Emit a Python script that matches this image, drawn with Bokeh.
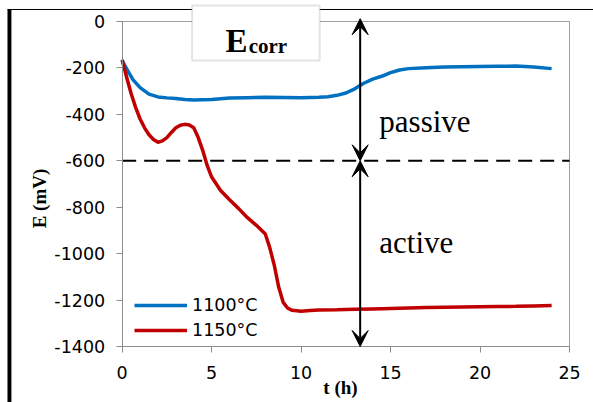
from bokeh.plotting import figure
from bokeh.models import (Range1d, Arrow, VeeHead, Label, Legend, LegendItem,
                          BoxAnnotation, FixedTicker, LinearAxis)
from bokeh.embed import file_html
from bokeh.resources import INLINE
import math

# ---- data ----
t_1100 = [0, 0.3, 0.6, 1.0, 1.5, 2.0, 2.5, 3.0, 3.5, 4.0, 4.5, 5, 6, 7, 8, 9, 10,
          11, 11.5, 12, 12.5, 13, 13.5, 14, 14.5, 15, 15.5, 16, 17, 18, 19, 20,
          21, 22, 23, 24]
e_1100 = [-170, -210, -250, -285, -313, -325, -329, -332, -336, -338, -337, -336,
          -330, -328, -326, -327, -328, -326, -324, -318, -308, -290, -266, -248,
          -236, -220, -209, -203, -199, -196, -195, -194, -193, -192, -196, -203]

t_1150 = [0, 0.25, 0.5, 0.75, 1.0, 1.25, 1.5, 1.75, 2.0, 2.25, 2.5, 2.75, 3.0,
          3.25, 3.5, 3.75, 4.0, 4.25, 4.5, 4.75, 5.0, 5.5, 6.0, 6.5, 7.0, 7.5,
          8.0, 8.25, 8.5, 8.75, 9.0, 9.25, 9.5, 10, 10.5, 11, 12, 13, 14, 15, 16,
          17, 18, 19, 20, 21, 22, 23, 24]
e_1150 = [-165, -240, -310, -370, -420, -458, -488, -508, -520, -514, -500, -478,
          -458, -447, -443, -446, -458, -500, -555, -620, -670, -728, -768, -805,
          -845, -878, -915, -975, -1050, -1145, -1210, -1235, -1244, -1248, -1245,
          -1243, -1242, -1240, -1238, -1236, -1234, -1232, -1231, -1230, -1229,
          -1228, -1227, -1225, -1223]

series_names = ["1100°C", "1150°C"]
series_colors = ["#0070C0", "#C00000"]
x_ticks = [0, 5, 10, 15, 20, 25]
y_ticks = [0, -200, -400, -600, -800, -1000, -1200, -1400]
t_min, t_max = 0, 25
e_min, e_max = -1400, 0
threshold = -600
boundary_t = 13.3

# frame fills the whole canvas; axes are placed at fixed data locations
p = figure(width=593, height=402, x_range=Range1d(-6.80, 26.34),
           y_range=Range1d(-1641.2, 90.46), output_backend="svg",
           toolbar_location=None, x_axis_location=None, y_axis_location=None,
           min_border=0)
p.background_fill_color = "white"
p.border_fill_color = "white"
p.grid.visible = False
p.outline_line_color = None

axis_color = "#8C8C8C"
xax = LinearAxis(fixed_location=e_min, bounds=(t_min, t_max),
                 ticker=FixedTicker(ticks=x_ticks))
yax = LinearAxis(fixed_location=t_min, bounds=(e_min, e_max),
                 ticker=FixedTicker(ticks=y_ticks),
                 major_label_overrides={v: str(v) for v in y_ticks})
for ax in (xax, yax):
    ax.axis_line_color = axis_color
    ax.major_tick_line_color = axis_color
    ax.major_tick_out = 6
    ax.major_tick_in = 0
    ax.minor_tick_line_color = None
    ax.major_label_text_font = "DejaVu Sans"
    ax.major_label_text_font_size = "17.5px"
    ax.major_label_text_color = "black"
xax.major_label_standoff = 13
yax.major_label_standoff = 11
p.add_layout(xax, "below")
p.add_layout(yax, "left")

# plot-area border (top and right)
frame_color = "#A0A0A0"
p.line([t_min, t_max], [e_max, e_max], line_color=frame_color, line_width=1)
p.line([t_max, t_max], [e_max, e_min], line_color=frame_color, line_width=1)

# outer black frame fragments
p.line([-6.41, 26.34], [51.7, 51.7], line_color="black", line_width=1)
p.quad(left=-6.41, right=-6.19, top=51.7, bottom=-1641.2, fill_color="black",
       line_color=None)

# dashed threshold line
p.line([t_min, t_max], [threshold, threshold], line_color="black", line_width=2,
       line_dash="14 8")

r1 = p.line(t_1100, e_1100, line_color=series_colors[0], line_width=3.5)
r2 = p.line(t_1150, e_1150, line_color=series_colors[1], line_width=3.5)

legend = Legend(items=[LegendItem(label=series_names[0], renderers=[r1]),
                       LegendItem(label=series_names[1], renderers=[r2])],
                location=(134, 62), border_line_color=None,
                background_fill_alpha=0, padding=0, margin=0, spacing=5,
                glyph_width=53, glyph_height=20, label_standoff=5,
                label_text_font="DejaVu Sans", label_text_font_size="17.5px",
                label_text_color="black", label_height=20)
p.add_layout(legend)

# arrows
head = dict(size=16, fill_color="black", line_color="black")
p.add_layout(Arrow(x_start=boundary_t, y_start=threshold, x_end=boundary_t, y_end=12,
                   line_width=2, line_color="black",
                   start=VeeHead(**head), end=VeeHead(**head)))
p.add_layout(Arrow(x_start=boundary_t, y_start=threshold, x_end=boundary_t, y_end=e_min,
                   line_width=2, line_color="black",
                   start=VeeHead(**head), end=VeeHead(**head)))

serif = "Liberation Serif"
p.add_layout(Label(x=14.37, y=-430, text="passive", text_font=serif,
                   text_font_size="31px", text_baseline="alphabetic",
                   text_color="black"))
p.add_layout(Label(x=14.37, y=-952, text="active", text_font=serif,
                   text_font_size="31px", text_baseline="alphabetic",
                   text_color="black"))

# Ecorr box
p.add_layout(BoxAnnotation(left=3.91, right=11.04, top=68.9, bottom=-168,
                           fill_color="white", fill_alpha=1,
                           line_color="#A6A6A6", line_width=2, level="overlay"))
p.add_layout(Label(x=5.77, y=-82, text="E", text_font=serif, text_font_style="bold",
                   text_font_size="33px", text_baseline="alphabetic",
                   text_color="black", level="overlay"))
p.add_layout(Label(x=7.07, y=-107, text="corr", text_font=serif, text_font_style="bold",
                   text_font_size="21px", text_baseline="alphabetic",
                   text_color="black", level="overlay"))

# axis titles
p.add_layout(Label(x=12.2, y=-1576.6, text="t (h)", text_font=serif,
                   text_font_style="bold", text_font_size="19px", text_align="center",
                   text_baseline="middle", text_color="black"))
p.add_layout(Label(x=-4.62, y=-762.5, text="E (mV)", text_font=serif,
                   text_font_style="bold", text_font_size="19px", text_align="center",
                   text_baseline="middle", angle=math.pi / 2, text_color="black"))

open("out.html", "w").write(file_html(p, INLINE))
